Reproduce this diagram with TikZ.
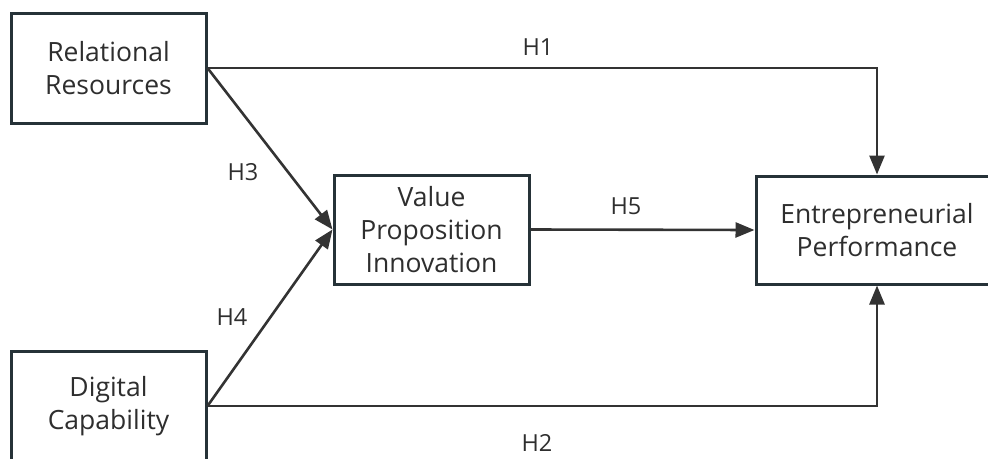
\documentclass[tikz,border=0pt]{standalone}
\usepackage{fontspec}
\setmainfont{Open Sans}
\usepackage{xcolor}
\usetikzlibrary{arrows.meta}

\definecolor{boxline}{HTML}{263238}
\definecolor{textgray}{HTML}{2e2e2e}

\tikzset{
    construct/.style={draw=boxline, line width=3pt, fill=white, align=center,
        text=textgray, font=\fontsize{26.5}{33}\selectfont, inner sep=0pt},
    path/.style={-{Triangle[length=19pt, width=15pt]}, line width=2.6pt, draw=black!80},
    hyp/.style={text=textgray, font=\fontsize{23.5}{26}\selectfont}
}

\begin{document}
\begin{tikzpicture}[x=1pt, y=-1pt]
    % Bounding area of the picture (boxes at the edges are cut off)
    \useasboundingbox (0, 0) rectangle (988, 458);
    \clip (0, 0) rectangle (988, 458);

    % Constructs
    \node[construct, minimum width=195pt, minimum height=110pt] (rr) at (108.5, 68) {Relational\\Resources};
    \node[construct, minimum width=195pt, minimum height=110pt] (dc) at (108.5, 406) {Digital\\Capability};
    \node[construct, minimum width=195pt, minimum height=109pt] (vpi) at (431.5, 229.5) {Value\\Proposition\\Innovation};
    \node[construct, minimum width=242pt, minimum height=108pt] (ep) at (877, 230) {Entrepreneurial\\Performance};

    % Direct effects
    \draw[path] (rr.east) -| (ep.north);% H1
    \draw[path] (dc.east) -| (ep.south);% H2

    % Paths through the mediator
    \draw[path] (rr.east) -- (vpi.west);% H3
    \draw[path] (dc.east) -- (vpi.west);% H4
    \draw[path] (vpi.east) -- (ep.west);% H5

    % Hypothesis labels
    \node[hyp] (h1) at (538, 47) {H1};
    \node[hyp] (h2) at (537, 443) {H2};
    \node[hyp] (h3) at (243, 172) {H3};
    \node[hyp] (h4) at (232, 317) {H4};
    \node[hyp] (h5) at (626, 206) {H5};
\end{tikzpicture}
\end{document}
